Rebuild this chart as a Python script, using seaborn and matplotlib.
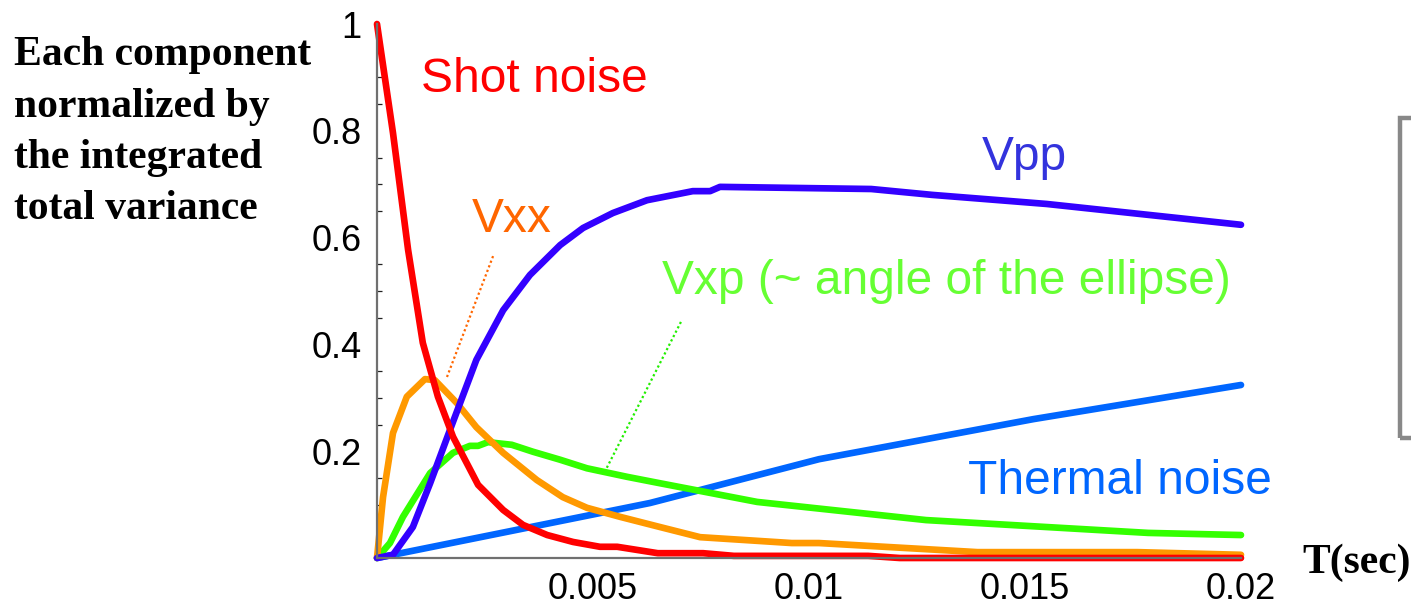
import numpy as np
import pandas as pd
import matplotlib
matplotlib.use("Agg")
import matplotlib.pyplot as plt
import seaborn as sns
from matplotlib.patches import Rectangle

# Normalized variance components versus integration time T (seconds)
t_shot = [0, 0.00037, 0.00072, 0.00106, 0.00141, 0.00176, 0.00234, 0.00292, 0.00338,
          0.00394, 0.00454, 0.00516, 0.00556, 0.0065, 0.00755, 0.00826, 0.01137, 0.0121, 0.02]
shot_noise = [1.0, 0.796, 0.577, 0.403, 0.302, 0.227, 0.137, 0.090, 0.062,
              0.043, 0.030, 0.021, 0.021, 0.009, 0.009, 0.004, 0.004, 0.0, 0.0]

t_vxx = [0, 0.00014, 0.00037, 0.00069, 0.00111, 0.00134, 0.00185, 0.0023, 0.00292, 0.0037,
         0.0043, 0.00486, 0.00563, 0.00655, 0.00748, 0.0096, 0.01023, 0.0139, 0.0176, 0.02]
vxx = [0, 0.114, 0.234, 0.302, 0.335, 0.333, 0.290, 0.245, 0.197, 0.146,
       0.114, 0.094, 0.077, 0.058, 0.039, 0.028, 0.028, 0.011, 0.011, 0.006]

t_vxp = [0, 0.0003, 0.0006, 0.00123, 0.00176, 0.00215, 0.00234, 0.00257, 0.00278, 0.00312,
         0.00361, 0.00424, 0.00486, 0.00579, 0.00655, 0.0088, 0.01271, 0.01785, 0.02]
vxp = [0, 0.028, 0.077, 0.159, 0.197, 0.210, 0.210, 0.217, 0.215, 0.212,
       0.199, 0.184, 0.168, 0.152, 0.140, 0.105, 0.071, 0.047, 0.043]

t_vpp = [0, 0.00037, 0.00083, 0.00123, 0.00169, 0.0023, 0.00292, 0.00354, 0.00424, 0.00477,
         0.00546, 0.00625, 0.00731, 0.00771, 0.00794, 0.01144, 0.01285, 0.0155, 0.02]
vpp = [0, 0.006, 0.058, 0.140, 0.240, 0.371, 0.464, 0.530, 0.586, 0.618,
       0.646, 0.670, 0.687, 0.687, 0.695, 0.691, 0.680, 0.663, 0.624]

t_thermal = [0, 0.00632, 0.01023, 0.01519, 0.02]
thermal_noise = [0, 0.103, 0.185, 0.260, 0.324]

x_ticks = [0.005, 0.01, 0.015, 0.02]
x_tick_labels = ["0.005", "0.01", "0.015", "0.02"]
y_ticks = [0.2, 0.4, 0.6, 0.8, 1.0]
y_tick_labels = ["0.2", "0.4", "0.6", "0.8", "1"]

sns.set_style("white")
plt.rcParams["font.family"] = ["Liberation Sans", "DejaVu Sans"]
plt.rcParams["text.color"] = "black"
plt.rcParams["xtick.color"] = "black"
plt.rcParams["ytick.color"] = "black"

W, H = 1411, 607
fig = plt.figure(figsize=(W / 100, H / 100), dpi=100)
ax = fig.add_axes([377 / W, 49 / H, 864 / W, 534 / H])

series = [
    (t_thermal, thermal_noise, "#0066ff"),
    (t_vxp, vxp, "#33ff00"),
    (t_vxx, vxx, "#ff9900"),
    (t_vpp, vpp, "#3300ff"),
    (t_shot, shot_noise, "#ff0000"),
]
for tt, vv, col in series:
    df = pd.DataFrame({"T": tt, "v": vv})
    sns.lineplot(data=df, x="T", y="v", ax=ax, color=col, lw=4.8, sort=False,
                 solid_capstyle="round", solid_joinstyle="round", clip_on=False)

ax.set_xlim(0, 0.02)
ax.set_ylim(0, 1)
ax.set_xlabel("")
ax.set_ylabel("")

for side in ("top", "right"):
    ax.spines[side].set_visible(False)
for side in ("left", "bottom"):
    ax.spines[side].set_color("#707070")
    ax.spines[side].set_linewidth(1.6)

tick_font = {"family": ["Liberation Sans", "DejaVu Sans"], "size": 26, "color": "black"}
ax.set_xticks(x_ticks)
ax.set_xticklabels(x_tick_labels, fontdict=tick_font)
ax.set_yticks(y_ticks)
ax.set_yticklabels(y_tick_labels, fontdict=tick_font)
ax.set_yticks(np.arange(0.05, 1.0, 0.05), minor=True)
ax.tick_params(axis="both", which="major", direction="in", length=6, width=1.0,
               color="#222222")
ax.tick_params(axis="y", which="major", pad=11)
ax.tick_params(axis="x", which="major", pad=10)
ax.tick_params(axis="y", which="minor", direction="in", length=3.5, width=0.9,
               color="#222222", left=True)

# Series labels
lab = 34.5
ax.text(0.003634, 0.873, "Shot noise", color="#ff0000", fontsize=lab, ha="center", va="baseline")
ax.text(0.003125, 0.610, "Vxx", color="#ff6600", fontsize=lab, ha="center", va="baseline")
ax.text(0.01498, 0.727, "Vpp", color="#3333dd", fontsize=lab, ha="center", va="baseline")
ax.text(0.01317, 0.494, "Vxp (~ angle of the ellipse)", color="#66ff33", fontsize=lab,
        ha="center", va="baseline")
ax.text(0.0172, 0.120, "Thermal noise", color="#0066ff", fontsize=lab, ha="center", va="baseline")

# Dotted leader lines from labels to curves
ax.plot([0.00162, 0.00269], [0.339, 0.566], color="#ff6600", lw=1.6, ls=(0, (1, 1.2)))
ax.plot([0.00532, 0.00706], [0.169, 0.446], color="#22ee00", lw=1.6, ls=(0, (1, 1.2)))

# Axis captions
serif = {"family": ["Liberation Serif", "DejaVu Serif"], "weight": "bold", "size": 30,
         "color": "black"}
for line, base in zip(["Each component", "normalized by", "the integrated", "total variance"],
                      [65, 117, 168, 219]):
    fig.text(14 / W, 1 - base / H, line, ha="left", va="baseline", fontdict=serif)
fig.text(1302 / W, 1 - 573 / H, "T(sec)", ha="left", va="baseline", fontdict=serif)

# Frame partly visible at the right edge
fig.add_artist(Rectangle((1400 / W, 1 - 438 / H), 80 / W, 320 / H, transform=fig.transFigure,
                         fill=False, edgecolor="#888888", lw=3.2, clip_on=False))

fig.savefig("out.png", dpi=100)
